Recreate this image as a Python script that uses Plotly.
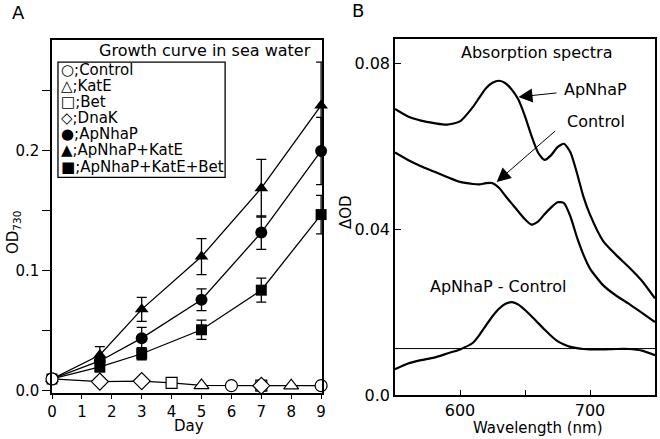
import plotly.graph_objects as go

# ---------------- Panel A data (growth curve) ----------------
days_filled = [0, 1.6, 3, 5, 7, 9]
apnhap = [0.010, 0.025, 0.044, 0.076, 0.132, 0.200]
apnhap_err = [0, 0.004, 0.009, 0.009, 0.014, 0.028]
apnhap_kate = [0.010, 0.030, 0.068, 0.112, 0.169, 0.238]
apnhap_kate_err = [0, 0.007, 0.010, 0.015, 0.024, 0.036]
apnhap_kate_bet = [0.010, 0.020, 0.031, 0.051, 0.084, 0.147]
apnhap_kate_bet_err = [0, 0.004, 0.005, 0.008, 0.010, 0.016]

control_days = [0, 6, 9]
control_vals = [0.010, 0.0044, 0.0044]
kate_days = [5, 8]
kate_vals = [0.0046, 0.0044]
bet_days = [4, 7]
bet_vals = [0.0068, 0.0044]
dnak_days = [1.6, 3, 7]
dnak_vals = [0.0078, 0.0082, 0.0044]

legend_names = ["Control", "KatE", "Bet", "DnaK", "ApNhaP", "ApNhaP+KatE", "ApNhaP+KatE+Bet"]
legend_glyphs = ["○", "△", "□", "◇", "●", "▲", "■"]

day_ticks = [0, 1, 2, 3, 4, 5, 6, 7, 8, 9]
od_ticks = [0.0, 0.05, 0.1, 0.15, 0.2, 0.25]
od_ticktext = ["0.0", "", "0.1", "", "0.2", ""]

# ---------------- Panel B data (absorption spectra) ----------------
wavelength = [550, 560, 570, 580, 590, 600, 610, 615, 620, 625, 630, 635, 640, 645, 650,
              655, 660, 665, 670, 675, 680, 685, 690, 695, 700, 710, 720, 730, 740, 750]
od_apnhap = [0.0690, 0.0672, 0.0662, 0.0656, 0.0652, 0.0660, 0.0695, 0.0718, 0.0740, 0.0753,
             0.0758, 0.0752, 0.0736, 0.0712, 0.0672, 0.0625, 0.0585, 0.0567, 0.0578, 0.0598,
             0.0606, 0.0585, 0.0535, 0.0478, 0.0435, 0.0372, 0.0338, 0.0308, 0.0275, 0.0233]
od_control = [0.0585, 0.0567, 0.0552, 0.0539, 0.0526, 0.0514, 0.0509, 0.0508, 0.0511, 0.0511,
              0.0500, 0.0480, 0.0461, 0.0442, 0.0424, 0.0411, 0.0418, 0.0436, 0.0452, 0.0465,
              0.0463, 0.0430, 0.0380, 0.0338, 0.0305, 0.0265, 0.0240, 0.0220, 0.0198, 0.0176]
od_diff = [0.0062, 0.0076, 0.0084, 0.0090, 0.0100, 0.0110, 0.0126, 0.0145, 0.0168, 0.0190,
           0.0208, 0.0220, 0.0224, 0.0218, 0.0205, 0.0190, 0.0174, 0.0158, 0.0143, 0.0130,
           0.0122, 0.0116, 0.0113, 0.0111, 0.0110, 0.0110, 0.0111, 0.0111, 0.0107, 0.0096]
diff_baseline = 0.0112
wl_ticks = [600, 650, 700]
wl_ticktext = ["600", "", "700"]
b_ticks = [0.0, 0.04, 0.08]
b_ticktext = ["0.0", "0.04", "0.08"]

FONT = "DejaVu Sans"
W, H = 660, 439

fig = go.Figure()

# combined line through the open-marker series
open_pts = sorted(list(zip(control_days, control_vals)) + list(zip(kate_days, kate_vals)) +
                  list(zip(bet_days, bet_vals)) + list(zip(dnak_days, dnak_vals)))
fig.add_trace(go.Scatter(x=[p[0] for p in open_pts], y=[p[1] for p in open_pts], mode="lines",
                         line=dict(color="black", width=1.3), xaxis="x", yaxis="y",
                         showlegend=False, cliponaxis=False))

# filled series
for vals, errs, sym in [(apnhap_kate, apnhap_kate_err, "triangle-up"),
                        (apnhap, apnhap_err, "circle"),
                        (apnhap_kate_bet, apnhap_kate_bet_err, "square")]:
    fig.add_trace(go.Scatter(
        x=days_filled, y=vals, mode="lines+markers",
        line=dict(color="black", width=1.3),
        marker=dict(symbol=sym, size=12 if sym != "square" else 11, color="black"),
        error_y=dict(type="data", array=errs, color="black", thickness=1.3, width=5),
        xaxis="x", yaxis="y", showlegend=False, cliponaxis=False))

# open series markers (white fill, black outline)
for dd, vv, sym, sz in [(bet_days, bet_vals, "square", 11), (kate_days, kate_vals, "triangle-up", 13),
                        (dnak_days, dnak_vals, "diamond", 13), (control_days, control_vals, "circle", 12)]:
    fig.add_trace(go.Scatter(
        x=dd, y=vv, mode="markers",
        marker=dict(symbol=sym, size=sz, color="white", line=dict(color="black", width=1.2)),
        xaxis="x", yaxis="y", showlegend=False, cliponaxis=False))

# Panel B curves
for yy in [od_apnhap, od_control, od_diff]:
    fig.add_trace(go.Scatter(x=wavelength, y=yy, mode="lines",
                             line=dict(color="black", width=2.2, shape="spline", smoothing=0.6),
                             xaxis="x2", yaxis="y2", showlegend=False))
fig.add_trace(go.Scatter(x=[wavelength[0], wavelength[-1]], y=[diff_baseline, diff_baseline],
                         mode="lines", line=dict(color="black", width=1),
                         xaxis="x2", yaxis="y2", showlegend=False))

axis_common = dict(showline=True, linecolor="black", linewidth=1.5, mirror=True,
                   showgrid=False, zeroline=False, tickcolor="black", tickwidth=1.3,
                   automargin=False)

fig.update_layout(
    width=W, height=H, margin=dict(l=0, r=0, t=0, b=0, autoexpand=False),
    paper_bgcolor="white", plot_bgcolor="white",
    font=dict(family=FONT, color="black"),
    xaxis=dict(domain=[52 / W, 322 / W], range=[0, 9.03], tickmode="array", tickvals=day_ticks,
               ticks="outside", ticklen=4, anchor="y",
               tickfont=dict(family=FONT, size=15, color="black"), **axis_common),
    yaxis=dict(domain=[1 - 393 / H, 1 - 40 / H], range=[-0.0017, 0.2925], tickmode="array",
               tickvals=od_ticks, ticktext=od_ticktext, ticks="outside", ticklen=8, anchor="x",
               tickfont=dict(family=FONT, size=15, color="black"), **axis_common),
    xaxis2=dict(domain=[395 / W, 655 / W], range=[550, 750], tickmode="array", tickvals=wl_ticks,
                ticktext=wl_ticktext, ticks="inside", ticklen=5, anchor="y2",
                tickfont=dict(family=FONT, size=16, color="black"), **axis_common),
    yaxis2=dict(domain=[1 - 395 / H, 1 - 39.3 / H], range=[0, 0.0858], tickmode="array",
                tickvals=b_ticks, ticktext=b_ticktext, ticks="inside", ticklen=6, anchor="x2",
                tickfont=dict(family=FONT, size=16, color="black"), **axis_common),
)


def px_ann(text, x, y, size=15, angle=0, xanchor="center"):
    fig.add_annotation(text=text, x=x / W, y=1 - y / H, xref="paper", yref="paper",
                       showarrow=False, textangle=angle, xanchor=xanchor, yanchor="middle",
                       font=dict(family=FONT, size=size, color="black"))


px_ann("A", 18, 13, size=18)
px_ann("B", 358, 11, size=18)
px_ann("Day", 189, 426, size=15)
px_ann("OD<sub>730</sub>", 13, 232, size=15, angle=-90)
px_ann("ΔOD", 346, 212, size=15, angle=-90)
px_ann("Wavelength (nm)", 538, 428, size=15)

# Panel A texts / legend box
fig.add_annotation(text="Growth curve in sea water", x=8.73, y=0.284, xref="x", yref="y",
                   showarrow=False, xanchor="right", yanchor="middle",
                   font=dict(family=FONT, size=16, color="black"))
fig.add_shape(type="rect", xref="x", yref="y", x0=0.2, x1=5.79, y0=0.178, y1=0.274,
              line=dict(color="black", width=1.3), fillcolor="white", layer="above")
for i, (g, name) in enumerate(zip(legend_glyphs, legend_names)):
    ypx = 70 + 16.1 * i
    fig.add_annotation(text=f"{g};{name}", x=0.25, y=(391 - ypx) / 1200, xref="x", yref="y",
                       showarrow=False, xanchor="left", yanchor="middle",
                       font=dict(family=FONT, size=15, color="black"))

# Panel B texts and arrows
fig.add_annotation(text="Absorption spectra", x=658.5, y=0.0825, xref="x2", yref="y2",
                   showarrow=False, font=dict(family=FONT, size=16, color="black"))
fig.add_annotation(text="ApNhaP", x=678.5, y=0.0736, xref="x2", yref="y2", xanchor="left",
                   showarrow=False, font=dict(family=FONT, size=16, color="black"))
fig.add_annotation(text="Control", x=680.8, y=0.0659, xref="x2", yref="y2", xanchor="left",
                   showarrow=False, font=dict(family=FONT, size=16, color="black"))
fig.add_annotation(text="ApNhaP - Control", x=629.2, y=0.0261, xref="x2", yref="y2",
                   showarrow=False, font=dict(family=FONT, size=16, color="black"))
fig.add_annotation(text="", x=645.0, y=0.0719, ax=675.4, ay=0.0729, xref="x2", yref="y2",
                   axref="x2", ayref="y2", showarrow=True, arrowhead=2, arrowsize=2.8,
                   arrowwidth=1, arrowcolor="black")
fig.add_annotation(text="", x=628.2, y=0.0514, ax=674.4, ay=0.0640, xref="x2", yref="y2",
                   axref="x2", ayref="y2", showarrow=True, arrowhead=2, arrowsize=2.8,
                   arrowwidth=1, arrowcolor="black")

fig.write_html("out.html", config={"displayModeBar": False},
               post_script="document.body.style.margin='0';document.body.style.overflow='hidden';")
